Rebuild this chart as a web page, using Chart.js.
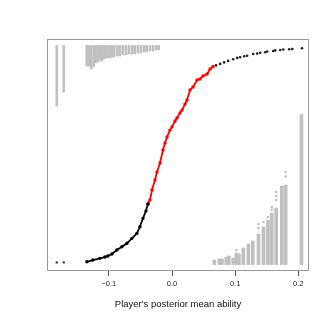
<!DOCTYPE html>
<html>
<head>
<meta charset="utf-8">
<script src="https://cdn.jsdelivr.net/npm/chart.js@4.4.1/dist/chart.umd.min.js"></script>
<style>
  html, body { margin: 0; padding: 0; background: #fff; }
  #wrap { width: 320px; height: 320px; }
</style>
</head>
<body>
<div id="wrap"><canvas id="abilityChart" width="320" height="320"></canvas></div>
<script>
// ability estimates, sorted, with fitted probability
const tailX = [-0.1825, -0.1714];
const tailY = [0.0, 0.0];

const lowerX = [-0.1349, -0.1254, -0.1143, -0.1063, -0.1016, -0.0952, -0.0873, -0.0794, -0.0714, -0.0635, -0.0556, -0.0508, -0.0460, -0.0413, -0.0381];
const lowerY = [0.003, 0.011, 0.019, 0.025, 0.030, 0.039, 0.058, 0.073, 0.089, 0.112, 0.135, 0.166, 0.205, 0.239, 0.272];

const midX = [-0.0381, -0.0349, -0.0317, -0.0270, -0.0238, -0.0190, -0.0143, -0.0111, -0.0079, -0.0032, 0.0000, 0.0048, 0.0079, 0.0127, 0.0159, 0.0206, 0.0238, 0.0286, 0.0333, 0.0397, 0.0444, 0.0492, 0.0556, 0.0603, 0.0651];
const midY = [0.272, 0.291, 0.337, 0.384, 0.421, 0.463, 0.523, 0.556, 0.584, 0.616, 0.631, 0.658, 0.672, 0.696, 0.709, 0.737, 0.756, 0.803, 0.817, 0.849, 0.854, 0.868, 0.877, 0.900, 0.912];

const upperX = [0.0698, 0.0762, 0.0825, 0.0889, 0.0968, 0.1032, 0.1079, 0.1143, 0.1190, 0.1286, 0.1349, 0.1397, 0.1476, 0.1508, 0.1603, 0.1635, 0.1714, 0.1762, 0.1857, 0.1905, 0.2059];
const upperY = [0.917, 0.924, 0.931, 0.938, 0.946, 0.952, 0.955, 0.960, 0.962, 0.970, 0.972, 0.976, 0.978, 0.982, 0.984, 0.987, 0.989, 0.991, 0.992, 0.993, 0.997];

// histogram of ability for outcome 1 (hangs from top)
const topHistX = [-0.1825, -0.1714, -0.135, -0.132, -0.128, -0.124, -0.121, -0.117, -0.114, -0.111, -0.108, -0.105, -0.102, -0.098, -0.095, -0.092, -0.087, -0.083, -0.078, -0.073, -0.068, -0.063, -0.059, -0.054, -0.049, -0.044, -0.040, -0.035, -0.030, -0.025, -0.021];
const topHistEnd = [0.728, 0.793, 0.914, 0.914, 0.900, 0.910, 0.928, 0.933, 0.942, 0.937, 0.947, 0.952, 0.952, 0.952, 0.956, 0.956, 0.961, 0.961, 0.966, 0.966, 0.970, 0.970, 0.970, 0.975, 0.975, 0.980, 0.980, 0.984, 0.984, 0.989, 0.989];

// histogram of ability for outcome 0 (rises from bottom)
const botHistX = [0.067, 0.075, 0.079, 0.086, 0.090, 0.097, 0.102, 0.106, 0.113, 0.121, 0.128, 0.137, 0.145, 0.152, 0.158, 0.165, 0.174, 0.180, 0.205];
const botHistEnd = [0.011, 0.016, 0.016, 0.025, 0.030, 0.020, 0.044, 0.039, 0.067, 0.086, 0.100, 0.132, 0.165, 0.197, 0.230, 0.253, 0.356, 0.360, 0.689];
const botDotX = [0.102, 0.137, 0.137, 0.145, 0.152, 0.158, 0.158, 0.165, 0.165, 0.165, 0.180, 0.180];
const botDotY = [0.058, 0.160, 0.179, 0.188, 0.211, 0.245, 0.258, 0.290, 0.310, 0.328, 0.400, 0.421];

const xTicks = [-0.1, 0.0, 0.1, 0.2];

const GREY = '#c0c0c0';

function pts(xs, ys) {
    return xs.map((x, i) => ({ x: x, y: ys[i] }));
}

function bars(xs, ends, base) {
    return xs.map((x, i) => ({ x: x, y: [base, ends[i]] }));
}

const boxPlugin = {
    id: 'box',
    afterDraw(chart) {
        const a = chart.chartArea;
        const ctx = chart.ctx;
        ctx.save();
        ctx.strokeStyle = '#999';
        ctx.lineWidth = 1;
        ctx.strokeRect(a.left + 0.5, a.top + 0.5, a.right - a.left - 1, a.bottom - a.top - 1);
        ctx.restore();
    }
};

const ctx = document.getElementById('abilityChart').getContext('2d');

new Chart(ctx, {
    type: 'scatter',
    data: {
        datasets: [
            {
                type: 'bar',
                data: bars(topHistX, topHistEnd, 1.01),
                backgroundColor: GREY,
                barThickness: 2,
                grouped: false
            },
            {
                type: 'bar',
                data: bars(botHistX, botHistEnd, -0.01),
                backgroundColor: GREY,
                barThickness: 3,
                grouped: false
            },
            {
                data: pts(botDotX, botDotY),
                backgroundColor: GREY,
                pointRadius: 1.3,
                borderWidth: 0
            },
            {
                data: pts(tailX, tailY),
                backgroundColor: '#333',
                pointRadius: 1.2,
                borderWidth: 0
            },
            {
                data: pts(lowerX, lowerY),
                showLine: true,
                borderColor: '#000',
                borderWidth: 1.8,
                backgroundColor: '#000',
                pointRadius: 0.8
            },
            {
                data: pts(midX, midY),
                showLine: true,
                borderColor: '#ff0000',
                borderWidth: 1.8,
                backgroundColor: '#ff0000',
                pointRadius: 0.8
            },
            {
                data: pts(upperX, upperY),
                backgroundColor: '#222',
                pointRadius: 1.3,
                borderWidth: 0
            }
        ]
    },
    options: {
        responsive: false,
        animation: false,
        layout: {
            padding: { left: 47, right: 11, top: 39, bottom: 0 }
        },
        plugins: {
            legend: { display: false },
            tooltip: { enabled: false }
        },
        scales: {
            x: {
                type: 'linear',
                min: -0.198,
                max: 0.217,
                offset: false,
                afterFit(scale) { scale.height = 49; },
                afterBuildTicks(scale) {
                    scale.ticks = xTicks.map(v => ({ value: v }));
                },
                grid: {
                    offset: false,
                    drawOnChartArea: false,
                    drawTicks: true,
                    tickLength: 5,
                    color: '#555'
                },
                border: { display: false },
                ticks: {
                    padding: 3,
                    color: '#222',
                    font: { family: 'Liberation Sans, Arial, sans-serif', size: 7.5 },
                    callback: function(v) {
                        return (v < 0 ? '\u2212' : '') + Math.abs(v).toFixed(1);
                    }
                },
                title: {
                    display: true,
                    text: "Player's posterior mean ability",
                    color: '#111',
                    font: { family: 'Liberation Sans, Arial, sans-serif', size: 9.5 },
                    padding: { top: 4, bottom: 10 }
                }
            },
            y: {
                type: 'linear',
                min: -0.04,
                max: 1.04,
                display: false
            }
        }
    },
    plugins: [boxPlugin]
});
</script>
</body>
</html>
